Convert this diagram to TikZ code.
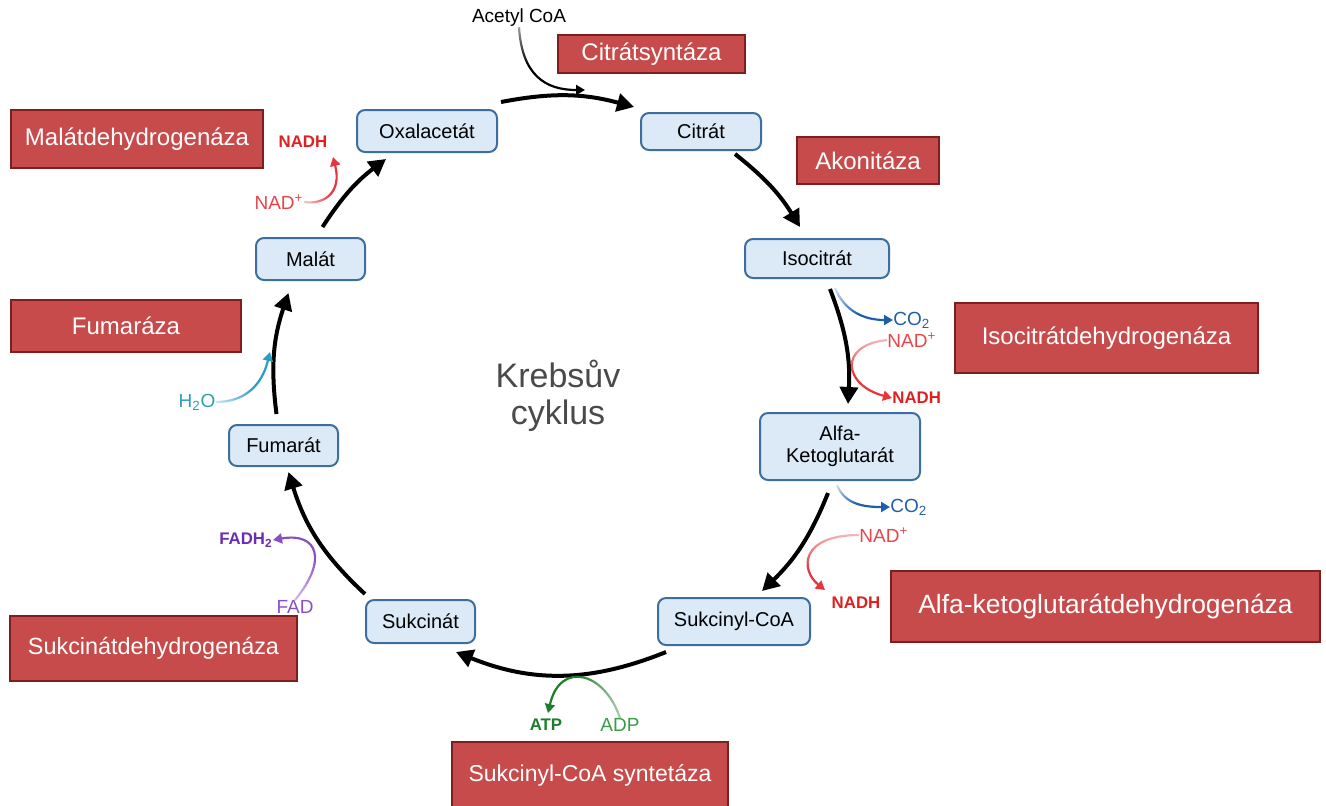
\documentclass[tikz,border=0pt]{standalone}
\usepackage{fontspec}
\setmainfont{Liberation Sans}
\usetikzlibrary{arrows.meta,fadings}
\pgfdeclarehorizontalshading{fadeshade}{100bp}{color(0bp)=(black); color(8bp)=(black); color(55bp)=(white); color(100bp)=(white)}
\pgfdeclarefading{fadein}{\pgfuseshading{fadeshade}}
\definecolor{boxblue}{HTML}{DCEAF7}
\definecolor{boxblueline}{HTML}{3D6E9E}
\definecolor{enzred}{HTML}{C84B4C}
\definecolor{enzredline}{HTML}{7D1F1F}
\definecolor{nadred}{HTML}{E8454A}
\definecolor{nadarrow}{HTML}{E6363C}
\definecolor{nadhred}{HTML}{E02020}
\definecolor{co2blue}{HTML}{1F5FAA}
\definecolor{h2oteal}{HTML}{2C9CC0}
\definecolor{fadpurple}{HTML}{8A4FC8}
\definecolor{fadhpurple}{HTML}{6A2DB0}
\definecolor{atpgreen}{HTML}{1E7D2A}
\definecolor{adpgreen}{HTML}{3A9A45}
\definecolor{krebsgray}{HTML}{4A4A4A}
\begin{document}
\begin{tikzpicture}[x=0.5pt,y=0.5pt,
  metab/.style={draw=boxblueline, fill=boxblue, line width=1pt, rounded corners=4pt,
    inner sep=0pt, font=\fontsize{10}{11}\selectfont, align=center, text=black},
  enz/.style={draw=enzredline, fill=enzred, line width=0.8pt, inner sep=0pt,
    font=\fontsize{12}{14}\selectfont, text=white},
  sz/.style n args={2}{minimum width=#1*0.5pt, minimum height=#2*0.5pt},
  cyc/.style={line width=2pt, -{Triangle[length=8.5pt,width=9pt]}},
  side/.style={line width=1.1pt, -{Triangle[length=4.5pt,width=5pt]}},
  lbl/.style={inner sep=0pt, font=\fontsize{9.5}{11}\selectfont},
  blbl/.style={inner sep=0pt, font=\fontsize{8.4}{10}\selectfont\bfseries},
  fd/.style={path fading=fadein, fading angle=#1}
]
\useasboundingbox (0,0) rectangle (1326,-805);

% metabolites
\node[metab, sz={140}{42}] (oxa) at (427,-131) {Oxalacetát};
\node[metab, sz={120}{37}] (cit) at (701,-131.5) {Citrát};
\node[metab, sz={144}{39}] (iso) at (817,-258.5) {Isocitrát};
\node[metab, sz={160}{67}] (akg) at (840,-446.5) {Alfa-\\Ketoglutarát};
\node[metab, sz={152}{47}] (sco) at (734,-621.5) {Sukcinyl-CoA};
\node[metab, sz={109}{43}] (suk) at (420.5,-621.5) {Sukcinát};
\node[metab, sz={109}{41}] (fum) at (283.5,-445.5) {Fumarát};
\node[metab, sz={109}{42}] (mal) at (310.5,-259) {Malát};

% enzymes
\node[enz, sz={187}{38}] (e1) at (651.5,-54) {Citrátsyntáza};
\node[enz, sz={142}{47}] (e2) at (868,-160.5) {Akonitáza};
\node[enz, sz={303}{70}] (e3) at (1106.5,-338) {Isocitrátdehydrogenáza};
\node[enz, sz={429}{71}, font=\fontsize{13.2}{15}\selectfont] (e4) at (1105.5,-606.5) {Alfa-ketoglutarátdehydrogenáza};
\node[enz, sz={276}{66}, font=\fontsize{11.5}{13}\selectfont] (e5) at (590,-775) {Sukcinyl-CoA syntetáza};
\node[enz, sz={287}{65}, font=\fontsize{11.7}{13}\selectfont] (e6) at (153.5,-648.5) {Sukcinátdehydrogenáza};
\node[enz, sz={230}{52}] (e7) at (126,-326) {Fumaráza};
\node[enz, sz={252}{58}] (e8) at (137,-139) {Malátdehydrogenáza};

% center title
\node[text=krebsgray, font=\fontsize{17}{18.5}\selectfont, align=center] (title) at (558,-396) {Krebsův\\cyklus};

% main cycle
\draw[cyc] ([shift={(3,7)}]oxa.north east) to[bend left=13] ([shift={(-6,5)}]cit.north west);
\draw[cyc] ([shift={(34,-3)}]cit.south) to[bend left=10] ([shift={(-17,11)}]iso.north);
\draw[cyc] ([shift={(13,-10)}]iso.south) to[bend left=12] ([shift={(8,8)}]akg.north);
\draw[cyc] ([shift={(-12,-12)}]akg.south) to[bend left=12] ([shift={(28,6)}]sco.north);
\draw[cyc] ([shift={(9,-6)}]sco.south west) to[bend left=22] ([shift={(-20,-8)}]suk.south east);
\draw[cyc] ([shift={(0,5)}]suk.north west) to[bend left=15] ([shift={(5,-5)}]fum.south);
\draw[cyc] ([shift={(-7,10)}]fum.north) to[bend left=13] ([shift={(-22,-12)}]mal.south);
\draw[cyc] ([shift={(12,10)}]mal.north) to[bend left=10] ([shift={(30,-6)}]oxa.south west);

% side labels
\node[lbl] (acetyl) at (519,-18) {Acetyl CoA};
\node[lbl, text=co2blue, anchor=west] (co2a) at (893,-320) {CO\textsubscript{2}};
\node[lbl, text=nadred, anchor=west] (nad1) at (887,-340) {NAD\textsuperscript{+}};
\node[blbl, text=nadhred, anchor=west] (nadh1) at (892,-398) {NADH};
\node[lbl, text=co2blue, anchor=west] (co2b) at (890,-507) {CO\textsubscript{2}};
\node[lbl, text=nadred, anchor=west] (nad2) at (859,-535) {NAD\textsuperscript{+}};
\node[blbl, text=nadhred] (nadh2) at (856,-603) {NADH};
\node[blbl, text=nadhred] (nadh3) at (303,-142) {NADH};
\node[lbl, text=nadred] (nad3) at (279,-202) {NAD\textsuperscript{+}};
\node[lbl, text=h2oteal] (h2o) at (197,-402) {H\textsubscript{2}O};
\node[blbl, text=fadhpurple] (fadh) at (246,-540) {FADH\textsubscript{2}};
\node[lbl, text=fadpurple] (fad) at (295,-607) {FAD};
\node[blbl, text=atpgreen] (atp) at (546,-725) {ATP};
\node[lbl, text=adpgreen] (adp) at (620,-725) {ADP};

% side arrows
\coordinate (s1) at (835,-288);
\coordinate (s2) at (837,-485);
\coordinate (t1) at (585,-90);
\coordinate (t2) at (825,-590);
\coordinate (t3) at (333,-157);
\coordinate (t4) at (270,-352);
\coordinate (t5) at (548,-713);
\draw[side, black, fd=-90] (acetyl.south) .. controls (522,-75) and (545,-90) .. (t1);
\draw[side, co2blue, fd=-40] (s1) .. controls (845,-312) and (865,-320) .. (co2a.west);
\draw[side, nadarrow, fd=-90] (nad1.west) .. controls (838,-345) and (843,-385) .. (nadh1.west);
\draw[side, co2blue, fd=-40] (s2) .. controls (845,-505) and (865,-507) .. (co2b.west);
\draw[side, nadarrow, fd=-90] (nad2.west) .. controls (800,-535) and (800,-570) .. (t2);
\draw[side, nadarrow, fd=20] (nad3.east) .. controls (325,-205) and (342,-192) .. (t3);
\draw[side, h2oteal, fd=20] (h2o.east) .. controls (245,-402) and (262,-385) .. (t4);
\draw[side, fadpurple, fd=90] (fad.north) .. controls (328,-560) and (318,-532) .. (fadh.east);
\draw[side, atpgreen, fd=180] (adp.north) .. controls (605,-672) and (560,-660) .. (t5);
\end{tikzpicture}
\end{document}
